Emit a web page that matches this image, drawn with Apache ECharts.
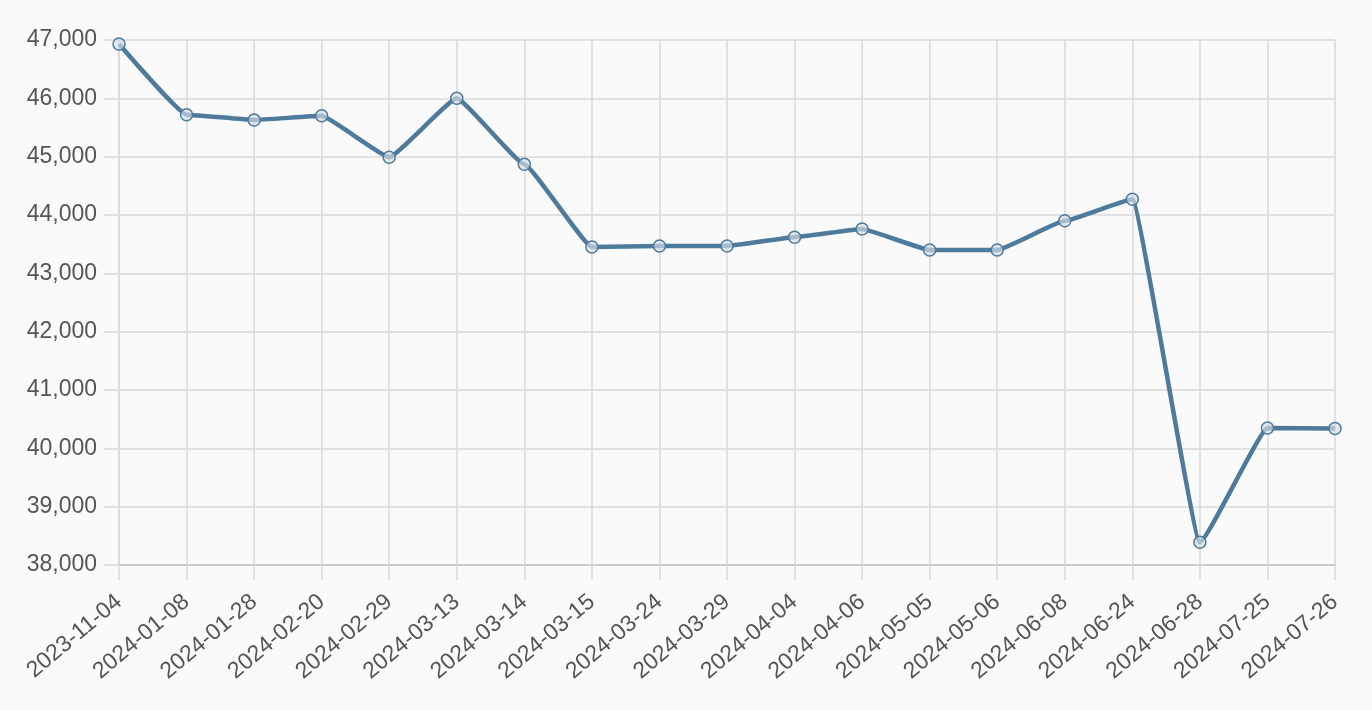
<!DOCTYPE html>
<html>
<head>
<meta charset="utf-8">
<script src="https://cdn.jsdelivr.net/npm/echarts@6/dist/echarts.min.js"></script>
<style>
  html, body { margin: 0; padding: 0; background: #fafafa; }
  #chart { width: 1372px; height: 710px; }
</style>
</head>
<body>
<div id="chart"></div>
<script>
// Dates along the x axis
const dates = [
    '2023-11-04', '2024-01-08', '2024-01-28', '2024-02-20', '2024-02-29',
    '2024-03-13', '2024-03-14', '2024-03-15', '2024-03-24', '2024-03-29',
    '2024-04-04', '2024-04-06', '2024-05-05', '2024-05-06', '2024-06-08',
    '2024-06-24', '2024-06-28', '2024-07-25', '2024-07-26'
];

// Values
const values = [
    46930, 45720, 45630, 45700, 44990,
    46000, 44870, 43450, 43470, 43470,
    43620, 43760, 43400, 43400, 43900,
    44270, 38390, 40350, 40340
];

const Y_MIN = 38000;
const Y_MAX = 47000;
const Y_STEP = 1000;

const LINE_COLOR = '#4e7a9c';
const GRID_COLOR = '#d9d9d9';
const LABEL_COLOR = '#555';
const FONT = '"Liberation Sans", Arial, sans-serif';

const chart = echarts.init(document.getElementById('chart'));

chart.setOption({
    backgroundColor: '#fafafa',
    animation: false,
    grid: { left: 119, right: 37, top: 40, bottom: 145, containLabel: false },
    xAxis: {
        type: 'category', data: dates, boundaryGap: false,
        axisLine: { show: true, lineStyle: { color: '#c4c4c4', width: 1.5 } },
        axisTick: { show: true, alignWithLabel: true, length: 15, lineStyle: { color: GRID_COLOR, width: 1.5 } },
        splitLine: { show: true, lineStyle: { color: GRID_COLOR, width: 1.5 } },
        axisLabel: {
            color: LABEL_COLOR, fontSize: 23, fontFamily: FONT,
            rotate: 40, margin: 34, interval: 0
        }
    },
    yAxis: {
        type: 'value', min: Y_MIN, max: Y_MAX, interval: Y_STEP,
        axisLine: { show: true, lineStyle: { color: GRID_COLOR, width: 1.5 } },
        axisTick: { show: true, length: 15, lineStyle: { color: GRID_COLOR, width: 1.5 } },
        splitLine: { show: true, lineStyle: { color: GRID_COLOR, width: 1.5 } },
        axisLabel: {
            color: LABEL_COLOR, fontSize: 23, fontFamily: FONT, margin: 22,
            formatter: v => v.toLocaleString('en-US')
        }
    },
    series: [{
        type: 'line', data: values,
        smooth: 0.1, smoothMonotone: 'x',
        symbol: 'circle', symbolSize: 12, showSymbol: true,
        lineStyle: { color: LINE_COLOR, width: 4.5 },
        itemStyle: { color: 'rgba(215,222,230,0.65)', borderColor: LINE_COLOR, borderWidth: 1.5 }
    }]
});
</script>
</body>
</html>
